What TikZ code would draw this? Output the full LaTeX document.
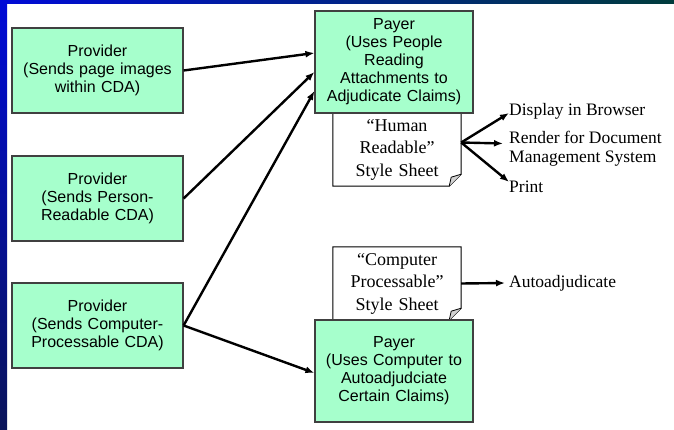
\documentclass[tikz,border=0pt]{standalone}
\usepackage{fontspec}
\setmainfont{Liberation Serif}
\newfontfamily\arialfont{Liberation Sans}
\usetikzlibrary{arrows.meta, backgrounds}

\definecolor{mint}{RGB}{166,255,204}
\definecolor{boxline}{RGB}{64,64,64}
\definecolor{barblue}{RGB}{0,10,215}
\definecolor{barnavy}{RGB}{10,20,90}
\definecolor{barteal}{RGB}{0,60,60}

\begin{document}
\begin{tikzpicture}[x=1pt, y=-1pt,
    party/.style={draw=boxline, line width=1.2pt, fill=mint, inner sep=0pt, align=center,
        font=\arialfont\fontsize{16}{18}\selectfont},
    provbox/.style={party, minimum width=171pt, minimum height=85pt, text width=168pt},
    paybox/.style={party, minimum width=158pt, minimum height=102pt, text width=156pt},
    sheetbox/.style={inner sep=0pt, minimum width=128pt, minimum height=73pt, text width=126pt,
        align=center, font=\fontsize{18}{22.5}\selectfont},
    outlabel/.style={anchor=west, inner sep=0pt, align=left, font=\fontsize{17.5}{19}\selectfont},
    flow/.style={line width=2.4pt, -{Latex[length=9pt,width=7pt]}}]
    \useasboundingbox (0,0) rectangle (674,430);
    % slide frame
    \shade[top color=barblue, bottom color=barnavy] (0,0) rectangle (7,430);
    \shade[left color=barblue, right color=barteal] (0,0) rectangle (674,4);

    % providers
    \node[provbox] (prov1) at (97.5,70.5) {Provider\\(Sends page images\\within CDA)};
    \node[provbox] (prov2) at (97.5,198.5) {Provider\\(Sends Person-\\Readable CDA)};
    \node[provbox] (prov3) at (97.5,325.5) {Provider\\(Sends Computer-\\Processable CDA)};

    % style sheets
    \node[sheetbox] (human) at (397,149.5) {``Human\\Readable''\\Style Sheet};
    \node[sheetbox] (comp) at (397,283.5) {``Computer\\Processable''\\Style Sheet};
    \begin{scope}[on background layer]
    \foreach \s in {human, comp} {
        \draw[fill=white, line width=1pt] (\s.north west) -- (\s.north east)
            -- ([yshift=12pt]\s.south east) -- ([xshift=-12pt]\s.south east)
            -- (\s.south west) -- cycle;
        \draw[fill=gray!35, line width=0.8pt] ([xshift=-12pt]\s.south east)
            -- ([xshift=-10pt,yshift=9pt]\s.south east) -- ([yshift=12pt]\s.south east);
    }
    \end{scope}

    % payers
    \node[paybox] (payread) at (394,62) {Payer\\(Uses People\\Reading\\Attachments to\\Adjudicate Claims)};
    \node[paybox] (payauto) at (394,371) {Payer\\(Uses Computer to\\Autoadjudciate\\Certain Claims)};

    % outputs
    \node[outlabel] (display) at (509,111) {Display in Browser};
    \node[outlabel] (render) at (509,148.5) {Render for Document\\Management System};
    \node[outlabel] (print) at (509,187) {Print};
    \node[outlabel] (autoadj) at (509,283) {Autoadjudicate};

    % flows
    \draw[flow] (prov1.east) -- ([yshift=9pt]payread.west);
    \draw[flow] (prov2.east) -- ([yshift=-10pt]payread.west);
    \draw[flow] (prov3.east) -- ([yshift=-29pt]payread.west);
    \draw[flow] (prov3.east) -- ([yshift=-2pt]payauto.west);
    \draw[flow] ([yshift=7pt]human.east) -- ([yshift=-2pt]display.west);
    \draw[flow] ([yshift=7pt]human.east) -- ([xshift=-6pt,yshift=5pt]render.west);
    \draw[flow] ([yshift=7pt]human.east) -- ([yshift=-1pt]print.north west);
    \draw[flow] (comp.east) -- ([xshift=-4pt]autoadj.west);
\end{tikzpicture}
\end{document}
